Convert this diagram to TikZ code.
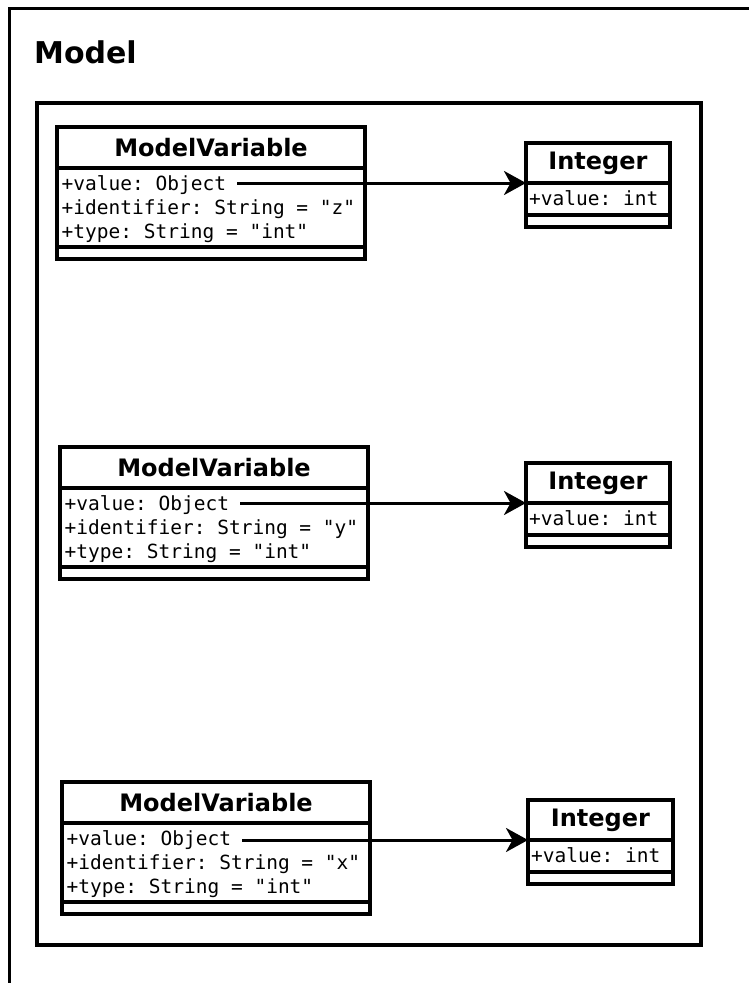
\documentclass[tikz,border=0pt]{standalone}
\usepackage{fontspec}
\setmainfont{DejaVu Sans}
\newfontfamily\monof{DejaVu Sans Mono}[Ligatures=TeXOff]
\usetikzlibrary{arrows.meta,calc}
\begin{document}
\begin{tikzpicture}[x=1pt,y=-1pt,
  part/.style={draw, line width=3.2pt, anchor=north west, inner sep=0pt, outer sep=0pt},
  ctitle/.style={font=\bfseries\fontsize{24}{28}\selectfont, inner sep=0pt},
  attr/.style={font=\monof\frenchspacing\fontsize{19.5}{22}\selectfont, anchor=base west, inner sep=0pt},
  frame/.style={draw, line width=3pt},
  assoc/.style={line width=3pt, -{Stealth[length=22pt,width=24pt,inset=6.5pt]}}
]
\clip (0,0) rectangle (749,983);
\fill[white] (0,0) rectangle (749,983);
% outer frame (open to right and bottom)
\draw[frame] (9,8) rectangle (790,1020);
\node[font=\bfseries\fontsize{30}{35}\selectfont, anchor=base west, inner sep=0pt] (model) at (34,63) {Model};
% inner frame
\draw[frame, line width=3.4pt] (37,103) rectangle (701,945);

\newcommand\mvclass[4]{%
  \node[part, minimum width=308pt, minimum height=41pt] (#1h) at (#2,#3) {};
  \node[ctitle] (#1t) at (#1h.center) {ModelVariable};
  \node[part, minimum width=308pt, minimum height=79pt] (#1a) at (#1h.south west) {};
  \node[part, minimum width=308pt, minimum height=12pt] (#1m) at (#1a.south west) {};
  \node[attr] (#1v) at ($(#1a.north west)+(4.5,22)$) {+value: Object};
  \node[attr] (#1i) at ($(#1a.north west)+(4.5,46)$) {+identifier: String = "#4"};
  \node[attr] (#1y) at ($(#1a.north west)+(4.5,70)$) {+type: String = "int"};
}
\newcommand\intclass[4]{%
  \node[part, minimum width=#4pt, minimum height=40pt] (#1h) at (#2,#3) {};
  \node[ctitle] (#1t) at (#1h.center) {Integer};
  \node[part, minimum width=#4pt, minimum height=32pt] (#1a) at (#1h.south west) {};
  \node[part, minimum width=#4pt, minimum height=12pt] (#1m) at (#1a.south west) {};
  \node[attr] (#1v) at ($(#1a.north west)+(3,22)$) {+value: int};
}

\mvclass{mvz}{57}{127}{z}
\mvclass{mvy}{60}{447}{y}
\mvclass{mvx}{62}{782}{x}
\intclass{intz}{526}{143}{144}
\intclass{inty}{526}{463}{144}
\intclass{intx}{528}{800}{145}

\coordinate (sz) at ($(mvzv.east |- intzh.south)+(11,0)$);
\coordinate (sy) at ($(mvyv.east |- intyh.south)+(11,0)$);
\coordinate (sx) at ($(mvxv.east |- intxh.south)+(11,0)$);
\draw[assoc] (sz) -- (intzh.south west);
\draw[assoc] (sy) -- (intyh.south west);
\draw[assoc] (sx) -- (intxh.south west);
\end{tikzpicture}
\end{document}
